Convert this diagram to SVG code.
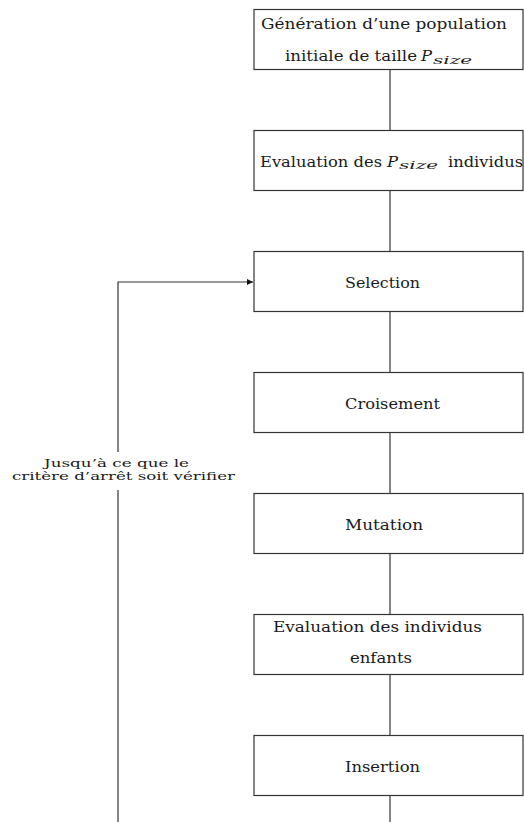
<svg xmlns="http://www.w3.org/2000/svg" width="524" height="822" viewBox="0 0 524 822">
<defs>
<style>
.box{fill:#fff;stroke:#333;stroke-width:1.2}
.t{font-family:"DejaVu Serif","Liberation Serif",serif;font-size:15px;fill:#1a1a1a}
.i{font-style:italic}
.s{font-family:"DejaVu Serif","Liberation Serif",serif;font-size:10.5px;font-style:italic;fill:#1a1a1a}
.lbl{font-family:"DejaVu Serif","Liberation Serif",serif;font-size:10.5px;fill:#1a1a1a}
.c{fill:none;stroke:#333;stroke-width:1.2}
</style>
<marker id="arr" viewBox="0 0 10 10" refX="10" refY="5" markerWidth="12" markerHeight="6" markerUnits="userSpaceOnUse" orient="auto">
<path d="M0,0 L10,5 L0,10 z" fill="#111"/>
</marker>
</defs>
<rect width="524" height="822" fill="#fff"/>
<g id="connectors">
<line class="c" x1="390" y1="69.5" x2="390" y2="130.5"/>
<line class="c" x1="390" y1="190.5" x2="390" y2="251.5"/>
<line class="c" x1="390" y1="311.5" x2="390" y2="372.5"/>
<line class="c" x1="390" y1="432.5" x2="390" y2="493.5"/>
<line class="c" x1="390" y1="553.5" x2="390" y2="614.5"/>
<line class="c" x1="390" y1="674.5" x2="390" y2="735.5"/>
<line class="c" x1="390" y1="795.5" x2="390" y2="822"/>
<line class="c" x1="118" y1="822" x2="118" y2="490"/>
<polyline class="c" points="118,452 118,282 253,282" marker-end="url(#arr)"/>
<text class="lbl" x="44" y="467" textLength="145" lengthAdjust="spacingAndGlyphs">Jusqu’à ce que le</text>
<text class="lbl" x="12" y="479.8" textLength="223" lengthAdjust="spacingAndGlyphs">critère d’arrêt soit vérifier</text>
</g>
<g id="n1">
<rect class="box" x="254" y="9.5" width="269" height="60"/>
<text class="t" x="261" y="28.5" textLength="246" lengthAdjust="spacingAndGlyphs">Génération d’une population</text>
<text class="t" x="285" y="61" textLength="132" lengthAdjust="spacingAndGlyphs">initiale de taille</text>
<text class="t i" x="421" y="61" textLength="11" lengthAdjust="spacingAndGlyphs">P</text>
<text class="s" x="433" y="63.5" textLength="39" lengthAdjust="spacingAndGlyphs">size</text>
</g>
<g id="n2">
<rect class="box" x="254" y="130.5" width="269" height="60"/>
<text class="t" x="260" y="166.5" textLength="122" lengthAdjust="spacingAndGlyphs">Evaluation des</text>
<text class="t i" x="387" y="166.5" textLength="11" lengthAdjust="spacingAndGlyphs">P</text>
<text class="s" x="399" y="169" textLength="39" lengthAdjust="spacingAndGlyphs">size</text>
<text class="t" x="448" y="166.5" textLength="75" lengthAdjust="spacingAndGlyphs">individus</text>
</g>
<g id="n3">
<rect class="box" x="254" y="251.5" width="269" height="60"/>
<text class="t" x="345" y="287.5" textLength="75" lengthAdjust="spacingAndGlyphs">Selection</text>
</g>
<g id="n4">
<rect class="box" x="254" y="372.5" width="269" height="60"/>
<text class="t" x="345" y="408.5" textLength="95" lengthAdjust="spacingAndGlyphs">Croisement</text>
</g>
<g id="n5">
<rect class="box" x="254" y="493.5" width="269" height="60"/>
<text class="t" x="345" y="529.5" textLength="78" lengthAdjust="spacingAndGlyphs">Mutation</text>
</g>
<g id="n6">
<rect class="box" x="254" y="614.5" width="269" height="60"/>
<text class="t" x="273" y="632" textLength="209" lengthAdjust="spacingAndGlyphs">Evaluation des individus</text>
<text class="t" x="350" y="663" textLength="62" lengthAdjust="spacingAndGlyphs">enfants</text>
</g>
<g id="n7">
<rect class="box" x="254" y="735.5" width="269" height="60"/>
<text class="t" x="345" y="771.5" textLength="75" lengthAdjust="spacingAndGlyphs">Insertion</text>
</g>
</svg>
